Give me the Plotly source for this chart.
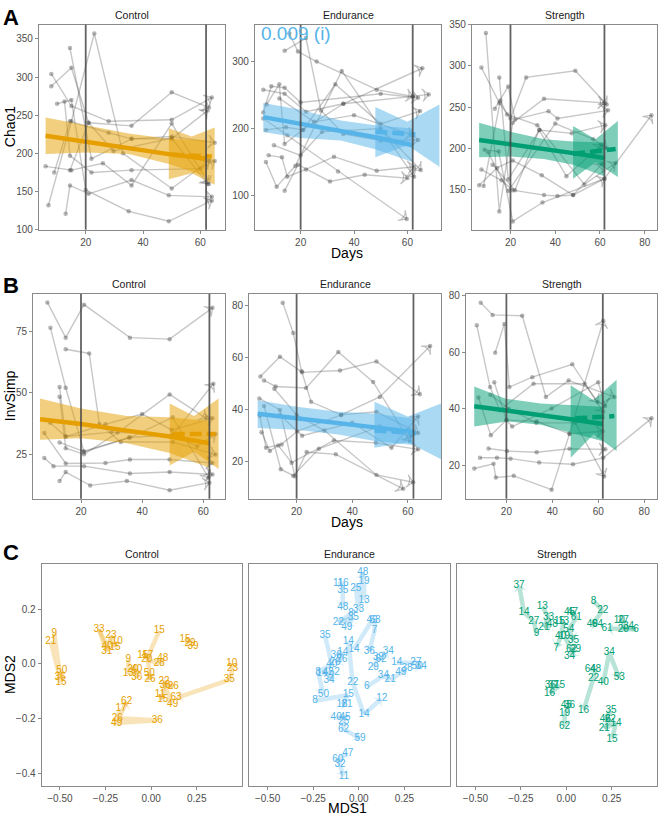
import plotly.graph_objects as go

W, H = 658, 821
FONT = "Liberation Sans, Arial, sans-serif"

# ---------------- data: Chao1 trajectories (days, values per subject) ----------------
chao_ctrl_days = [[8, 15, 28, 50, 64], [8, 15, 21, 36, 50, 63], [14.5, 22, 36, 50, 65],
                  [7, 15, 23, 33, 50, 63], [6, 15, 26, 36, 50, 63], [13, 14.5, 21, 36, 49, 64],
                  [10, 15, 20, 35, 49, 64], [12.6, 14.5, 22, 36, 60, 65], [9, 14.5, 28, 36, 50, 62.5],
                  [14.5, 21, 29.7, 50, 62.5]]
chao_ctrl_vals = [[304, 262, 242, 244, 273], [288, 312, 240, 236, 280, 260], [338, 193, 219, 222, 214],
                  [132, 242, 357, 200, 154, 190], [183, 178, 187, 158, 239, 160], [121, 158, 147, 165, 145, 143],
                  [265, 270, 152, 124, 111, 138], [268, 197, 175, 178, 180, 190], [175, 242, 227, 219, 219, 256],
                  [178, 240, 203, 220, 160]]
chao_end_days = [[6, 14, 22, 36, 62, 68], [6, 9, 14, 20, 50, 64], [15.75, 19, 26, 48.5, 62],
                 [14, 22, 27.6, 36, 50, 64], [7, 14.5, 21, 33, 50, 64.75], [7.25, 12, 14, 20.75, 36, 65.6],
                 [8, 13, 15, 22, 32.5, 48.5, 62.5], [7, 11, 18, 35.4, 62.5], [14, 19, 31, 44, 60],
                 [6, 15, 34, 59.75], [10, 20, 28, 50, 65], [12, 25, 40, 62]]
chao_end_vals = [[258, 252, 225, 237, 248, 251], [224, 263, 261, 239, 252, 246], [342, 315, 300, 258, 248],
                 [316, 335, 227, 192, 182, 183], [198, 202, 198, 266, 207, 226], [236, 266, 177, 198, 237, 290],
                 [160, 157, 128, 139, 158, 137, 143], [150, 113, 144, 286, 128], [107, 146, 121, 131, 126],
                 [215, 190, 136, 65], [175, 160, 195, 200, 138], [245, 210, 220, 190]]
chao_str_days = [[9, 15, 21, 35, 62], [7, 15, 20, 27, 49, 63], [15, 19, 33, 47.4, 62.4],
                 [13, 19, 22, 37, 41, 63.6], [6, 14, 21, 34, 48, 62], [8, 15.5, 18.5, 32, 53, 67],
                 [7, 16, 21, 35, 41, 48, 61], [8.4, 14.7, 21, 34.3, 62, 83], [12, 22, 32.8, 45, 60.6],
                 [10, 19, 40, 57, 63]]
chao_str_vals = [[340, 123, 231, 260, 255], [298, 255, 236, 286, 294, 253], [286, 162, 222, 218, 228],
                 [248, 275, 235, 245, 236, 246], [155, 176, 185, 167, 143, 163], [154, 258, 241, 228, 156, 182],
                 [174, 161, 149, 143, 142, 143, 181], [198, 196, 111, 134, 163, 240], [180, 149, 222, 166, 204],
                 [195, 148, 230, 211, 200]]

# ---------------- data: InvSimp trajectories ----------------
inv_ctrl_days = [[9, 15, 21, 36, 49, 63], [10, 15, 21, 36, 50, 61.7], [15, 22.7, 26, 33, 50, 64],
                 [13, 15, 28, 40, 49.7, 63], [13, 15, 21, 32, 49, 61], [8, 15, 28, 36, 49, 63],
                 [8, 11, 21, 36, 49, 63], [13, 15, 23, 35, 49, 62], [13, 20.8, 35.7, 50, 63.3],
                 [9.9, 15, 30, 50.2, 58, 64]]
inv_ctrl_vals = [[86.6, 72.3, 85.7, 72.3, 71.7, 84.4], [76.3, 52, 26, 31.8, 40, 15.5],
                 [67.6, 65.9, 37.3, 30, 30, 24.9], [52.3, 32.2, 37.2, 41.3, 34.9, 39.6],
                 [48.3, 27.5, 25, 33.8, 49.3, 39.6], [33.6, 21.3, 21.5, 22.9, 22.9, 21.5],
                 [23.5, 20.2, 20.2, 17.2, 17.8, 16.8], [14.2, 17.8, 12.4, 14.2, 10.4, 13.5],
                 [29.8, 26.2, 31.8, 32.9, 53.6], [37.8, 32.2, 34, 32.9, 28.2, 33.2]]
inv_end_days = [[15, 18.8, 21.8, 25.2, 36, 48.7, 63.7], [7, 14, 22, 35.6, 48.7, 64.3],
                [8.3, 12.5, 23.4, 35, 47.5, 60.7], [6.6, 14, 19.4, 23.6, 34.1, 58.3],
                [6.8, 9, 14.6, 20.2, 36, 49.9, 68], [7.4, 10.4, 13.4, 18.2, 33.4, 48.5, 63.7],
                [8.3, 14.3, 18.8, 28, 49.9, 61.3], [12, 20, 30, 48.7, 61.9], [14, 22, 40, 54.1, 63.7]]
inv_end_vals = [[81, 69.4, 54.7, 43, 38, 39.2, 31.1], [52.7, 60.3, 54.3, 55, 58.5, 45.9],
                [51.2, 48.9, 48.3, 62.1, 50.6, 27.9], [44.3, 39.9, 14.5, 23.8, 22.9, 9.7],
                [37.7, 25.4, 26.7, 31.7, 38, 44.9, 64.4], [31.4, 24.2, 26.3, 19.7, 28.2, 27.3, 24.8],
                [41.4, 17.2, 14.7, 25, 33.6, 29.8], [48, 38, 32, 15, 12.2], [38, 30, 35, 25.4, 37.4]]
inv_str_days = [[8.8, 14, 26.9, 37.2, 47.1, 67], [15.1, 19.1, 21.3, 31.3, 48.7, 62.2],
                [7.1, 12.9, 17.1, 31.8, 54.1, 59.7], [7.8, 13.2, 20, 33.2, 47.5, 62.2],
                [14.7, 20, 22.5, 39.7, 60, 63], [12.2, 20.3, 33.2, 47.5, 63.1],
                [8.5, 15.9, 21.8, 34.3, 49, 62.2, 83.2], [6, 14.4, 15.4, 23.2, 39.7, 47.5, 61.9],
                [13, 21, 33, 50, 62.6]]
inv_str_vals = [[77.6, 73.3, 73, 44.2, 50, 44.2], [59.9, 70.1, 47.7, 51.2, 55.8, 38.9],
                [69.6, 47.7, 39.5, 48.9, 48.9, 42.4], [44, 30.6, 36, 35.5, 31.1, 71.2],
                [49.4, 36, 33.7, 40.1, 49.4, 41], [25.9, 25, 24.6, 25.8, 25.6],
                [22.6, 22.6, 22.3, 20.9, 20.3, 22.6, 36.6], [18.8, 20.5, 15.6, 16.2, 11.3, 31.1, 32],
                [45, 40, 35, 35, 16]]

# ---------------- data: fitted trends [x, fit, lower, upper] ----------------
chao_ctrl_fit = [[6, 20, 35, 49, 62], [223, 215, 207, 199, 193], [199, 201, 199, 186, 170], [247, 237, 226, 219, 217]]
chao_ctrl_late = [[49, 57, 65], [198, 197, 196], [166, 174, 159], [233, 222, 234]]
chao_ctrl_late_line = [[50, 64], [198, 196]]
chao_end_fit = [[6, 20, 35, 48, 62], [217, 207, 197, 187, 175], [195, 186, 182, 169, 150], [238, 228, 212, 205, 200]]
chao_end_late = [[48, 60, 72], [195.6, 191, 189], [157, 175, 143], [232, 210, 236]]
chao_end_late_line = [[48, 63], [195.6, 191]]
chao_str_fit = [[6, 20, 35, 48, 62], [210, 205, 199, 194, 188], [189, 190, 187, 180, 166], [231, 220, 211, 208, 207]]
chao_str_late = [[48, 58, 68], [193, 196, 199], [163, 183, 165], [227, 211, 233]]
chao_str_late_line = [[48, 67], [193, 199]]
inv_ctrl_fit = [[6.6, 20, 35, 49, 62], [39.2, 37.3, 34.6, 32.2, 29.5], [30.9, 31.5, 29.5, 25.5, 19.5], [47.6, 43.6, 40.5, 40.0, 38.5]]
inv_ctrl_late = [[49, 57, 65], [33.2, 33.2, 33.2], [20.5, 26, 19], [45.6, 40.5, 47.6]]
inv_ctrl_late_line = [[50, 64], [33.2, 33.2]]
inv_end_fit = [[6, 20, 35, 48, 62], [38.4, 36.7, 34.8, 33.2, 31.5], [33, 32.3, 30.5, 28, 26.5], [43.6, 41.1, 39.2, 38.5, 36.5]]
inv_end_late = [[48, 60, 72], [32, 31, 30.5], [25.4, 27.5, 21], [43, 37.4, 42.4]]
inv_end_late_line = [[48, 63], [32, 31]]
inv_str_fit = [[6, 20, 35, 48, 62], [40.9, 39.5, 37.8, 36.3, 34.6], [33.7, 35.5, 34.3, 31.5, 28.5], [47.9, 43.5, 41.9, 41.3, 40.7]]
inv_str_late = [[48, 58, 68], [36.5, 36.8, 37.4], [22.6, 31, 25], [48.3, 43, 50.3]]
inv_str_late_line = [[50, 67], [36.6, 37.4]]

# ---------------- data: MDS ordination (labels = day) ----------------
mds_ctrl_lab = [["9", "15", "21", "36", "50"], ["10", "15", "23", "31", "33", "40"], ["9", "13", "20", "36", "40"],
                ["15", "20", "28", "48"], ["15", "17", "26", "50"], ["11", "15", "22", "26", "36", "49"],
                ["10", "23", "35", "63"], ["15", "29", "39"], ["17", "26", "36", "49", "62"]]
mds_ctrl_x = [[-0.531, -0.494, -0.550, -0.499, -0.490], [-0.185, -0.198, -0.220, -0.243, -0.286, -0.240],
              [-0.125, -0.125, -0.101, -0.079, -0.079], [0.045, -0.024, 0.045, 0.064], [-0.046, -0.019, -0.006, -0.010],
              [0.049, 0.064, 0.071, 0.122, 0.076, 0.118], [0.442, 0.447, 0.429, 0.137], [0.186, 0.213, 0.230],
              [-0.165, -0.185, 0.034, -0.189, -0.134]]
mds_ctrl_y = [[0.112, -0.069, 0.082, -0.051, -0.026], [0.081, 0.061, 0.104, 0.046, 0.126, 0.064],
              [0.016, -0.036, -0.020, -0.051, -0.020], [0.121, 0.016, 0.001, 0.020], [0.031, 0.031, -0.059, -0.035],
              [-0.114, -0.131, -0.065, -0.083, -0.081, -0.149], [0.000, -0.017, -0.059, -0.125], [0.088, 0.075, 0.064],
              [-0.165, -0.199, -0.207, -0.217, -0.137]]
mds_end_lab = [["13", "19", "25", "33", "48"], ["11", "16", "35", "48"], ["8", "22", "35", "49"],
               ["14", "49", "63", "7", "36"], ["14", "22", "14", "12"], ["35", "40", "8", "50"],
               ["36", "14", "26", "20"], ["14", "42", "52", "34"], ["8", "15", "18", "21"],
               ["40", "45", "25", "62", "59"], ["47", "60", "32", "11"], ["29", "39", "62", "34"],
               ["6", "34", "21", "49", "38"], ["14", "27", "50", "34"]]
mds_end_x = [[0.029, 0.029, -0.016, -0.002, 0.022], [-0.113, -0.086, -0.088, -0.088], [-0.042, -0.112, -0.030, -0.066],
             [-0.026, 0.073, 0.089, 0.086, 0.058], [-0.057, -0.033, 0.029, 0.126], [-0.185, -0.148, -0.223, -0.194],
             [-0.124, -0.088, -0.093, -0.130], [-0.201, -0.168, -0.135, -0.163], [-0.240, -0.057, -0.092, -0.064],
             [-0.124, -0.075, -0.084, -0.084, 0.007], [-0.060, -0.115, -0.103, -0.081], [0.080, 0.107, 0.122, 0.162],
             [0.044, 0.135, 0.172, 0.230, 0.265], [0.208, 0.313, 0.320, 0.342]]
mds_end_y = [[0.233, 0.301, 0.278, 0.200, 0.335], [0.293, 0.295, 0.269, 0.206], [0.184, 0.151, 0.170, 0.134],
             [0.054, 0.160, 0.160, 0.121, 0.046], [0.082, -0.069, -0.185, -0.126], [0.104, -0.002, -0.030, -0.114],
             [0.030, 0.042, 0.016, 0.006], [-0.034, -0.030, -0.030, -0.060], [-0.135, -0.114, -0.149, -0.150],
             [-0.195, -0.195, -0.213, -0.239, -0.273], [-0.330, -0.349, -0.370, -0.414], [-0.014, 0.022, 0.017, 0.046],
             [-0.083, -0.044, -0.059, -0.033, -0.018], [0.004, 0.004, -0.008, -0.008]]
mds_str_lab = [["9", "27", "14", "37"], ["13", "33", "21", "48"], ["15", "13", "40", "7"],
               ["45", "47", "61", "54", "35"], ["19", "62", "29", "34"], ["8", "22", "49", "64"],
               ["10", "27", "20", "34", "6", "61"], ["40", "34", "53"], ["35", "46", "22", "21", "14", "15"],
               ["64", "48", "22", "16"], ["36", "37", "15", "16"], ["45", "36", "19", "62"]]
mds_str_x = [[-0.164, -0.179, -0.232, -0.260], [-0.132, -0.097, -0.123, -0.077], [-0.037, -0.015, -0.031, -0.055],
             [0.018, 0.035, 0.055, 0.014, 0.040], [-0.009, 0.029, 0.051, 0.018], [0.150, 0.201, 0.144, 0.172],
             [0.292, 0.314, 0.314, 0.343, 0.384, 0.225], [0.204, 0.237, 0.292],
             [0.247, 0.215, 0.243, 0.210, 0.274, 0.252], [0.133, 0.161, 0.150, 0.095],
             [-0.088, -0.070, -0.037, -0.092], [0.000, 0.018, -0.009, -0.009]]
mds_str_y = [[0.110, 0.157, 0.187, 0.289], [0.211, 0.170, 0.134, 0.146], [0.154, 0.154, 0.100, 0.058],
             [0.190, 0.190, 0.169, 0.126, 0.085], [0.100, 0.052, 0.052, 0.028], [0.230, 0.196, 0.146, 0.146],
             [0.160, 0.160, 0.126, 0.136, 0.126, 0.130], [-0.069, 0.040, -0.051],
             [-0.171, -0.203, -0.203, -0.237, -0.217, -0.276], [-0.020, -0.020, -0.053, -0.171],
             [-0.081, -0.081, -0.081, -0.107], [-0.153, -0.153, -0.183, -0.231]]

groups = ["Control", "Endurance", "Strength"]
x_ticks_days = [20, 40, 60]
x_ticks_days_long = [20, 40, 60, 80]
chao_ticks = [[100, 150, 200, 250, 300, 350], [100, 200, 300], [150, 200, 250, 300, 350]]
inv_ticks = [[25, 50, 75], [20, 40, 60, 80], [20, 40, 60, 80]]
mds_xticks = [-0.5, -0.25, 0, 0.25]
mds_xtext = ["\u22120.50", "\u22120.25", "0.00", "0.25"]
mds_yticks = [-0.4, -0.2, 0, 0.2]
mds_ytext = ["\u22120.4", "\u22120.2", "0.0", "0.2"]
phase_days = [20, 62]
stat_label = "0.009 (i)"

# ---------------- styling ----------------
COL = {"Control": (230, 159, 0), "Endurance": (86, 180, 233), "Strength": (0, 158, 115)}
def rgba(c, a):
    return f"rgba({c[0]},{c[1]},{c[2]},{a})"
def fx(p):
    return p / W
def fy(p):
    return 1 - p / H

TRAJ = "rgba(70,70,70,0.30)"
DOT = "rgba(70,70,70,0.40)"
BORDER = "#8a8a8a"
TICKFONT = dict(family=FONT, size=10, color="#4d4d4d")

# panel geometry in pixels: (id, group, x px, y px, xrange, yrange)
panels = [
    (1, "Control", (39, 225), (19, 227), [3.7, 68.6], [100, 368.5]),
    (2, "Endurance", (255, 441), (19, 227), [2.9, 72.6], [49, 355]),
    (3, "Strength", (472, 657), (19, 227), [2.8, 85.5], [101, 350]),
    (4, "Control", (33.3, 225), (292.3, 500), [4.4, 67.1], [7, 90]),
    (5, "Endurance", (249.3, 441), (292.3, 500), [3.0, 71.9], [5.9, 84.3]),
    (6, "Strength", (466, 657), (292.3, 500), [2.4, 85.6], [8.1, 80.7]),
    (7, "Control", (41.7, 242.3), (566, 791.7), [-0.6, 0.5], [-0.448, 0.367]),
    (8, "Endurance", (249.3, 450), (566, 791.7), [-0.6, 0.5], [-0.448, 0.367]),
    (9, "Strength", (457.3, 657), (566, 791.7), [-0.6, 0.5], [-0.448, 0.367]),
]

fig = go.Figure()
layout = {}
shapes = []
annotations = []

def sfx(pid):
    return "" if pid == 1 else str(pid)

for pid, grp, xp, yp, xr, yr in panels:
    s = sfx(pid)
    gi = groups.index(grp)
    xa = dict(domain=[fx(xp[0]), fx(xp[1])], range=xr, anchor="y" + s, showgrid=False, zeroline=False,
              showline=True, mirror=True, linecolor=BORDER, linewidth=1.2, ticks="outside", ticklen=3,
              tickcolor=BORDER, tickfont=TICKFONT)
    ya = dict(domain=[fy(yp[1]), fy(yp[0])], range=yr, anchor="x" + s, showgrid=False, zeroline=False,
              showline=True, mirror=True, linecolor=BORDER, linewidth=1.2, ticks="outside", ticklen=3,
              tickcolor=BORDER, tickfont=TICKFONT)
    if pid <= 6:
        xa["tickvals"] = x_ticks_days_long if grp == "Strength" else x_ticks_days
        ya["tickvals"] = chao_ticks[gi] if pid <= 3 else inv_ticks[gi]
        for d in phase_days:
            shapes.append(dict(type="line", xref="x" + s, yref="y" + s + " domain", x0=d, x1=d, y0=0, y1=1,
                               line=dict(color="rgba(70,70,70,0.85)", width=1.8), layer="above"))
    else:
        xa["tickvals"] = mds_xticks
        xa["ticktext"] = mds_xtext
        if pid == 7:
            ya["tickvals"] = mds_yticks
            ya["ticktext"] = mds_ytext
        else:
            ya["showticklabels"] = False
            ya["ticks"] = ""
    layout["xaxis" + s] = xa
    layout["yaxis" + s] = ya
    # facet title
    annotations.append(dict(text=grp, x=fx((xp[0] + xp[1]) / 2), y=fy(yp[0] - 10), xref="paper", yref="paper",
                            showarrow=False, font=dict(family=FONT, size=10.5, color="#1a1a1a"),
                            xanchor="center", yanchor="middle"))

def add_traj(pid, days_list, vals_list):
    s = sfx(pid)
    for d, v in zip(days_list, vals_list):
        n = len(d)
        fig.add_trace(go.Scatter(
            x=d, y=v, mode="lines+markers", xaxis="x" + s, yaxis="y" + s, showlegend=False, hoverinfo="skip",
            line=dict(color=TRAJ, width=1.4),
            marker=dict(symbol="arrow-wide-open", size=[0] * (n - 1) + [9], angleref="previous",
                        color="rgba(70,70,70,0.5)",
                        line=dict(color="rgba(70,70,70,0.5)", width=[0] * (n - 1) + [1.2]))))
    fig.add_trace(go.Scatter(
        x=[x for d in days_list for x in d], y=[y for v in vals_list for y in v], mode="markers",
        xaxis="x" + s, yaxis="y" + s, showlegend=False, hoverinfo="skip",
        marker=dict(size=4.5, color=DOT, line=dict(width=0))))

def add_fit(pid, grp, fit, late, late_line):
    s = sfx(pid)
    c = COL[grp]
    for band in (fit, late):
        xs, mid, lo, hi = band
        fig.add_trace(go.Scatter(x=xs + xs[::-1], y=hi + lo[::-1], fill="toself", mode="lines",
                                 line=dict(width=0), fillcolor=rgba(c, 0.5), xaxis="x" + s, yaxis="y" + s,
                                 showlegend=False, hoverinfo="skip"))
    fig.add_trace(go.Scatter(x=fit[0], y=fit[1], mode="lines", line=dict(color=rgba(c, 1), width=4.5),
                             xaxis="x" + s, yaxis="y" + s, showlegend=False, hoverinfo="skip"))
    fig.add_trace(go.Scatter(x=late_line[0], y=late_line[1], mode="lines",
                             line=dict(color=rgba(c, 1), width=4.5, dash="12px,5px"),
                             xaxis="x" + s, yaxis="y" + s, showlegend=False, hoverinfo="skip"))

traj_sets = [
    (1, "Control", chao_ctrl_days, chao_ctrl_vals, chao_ctrl_fit, chao_ctrl_late, chao_ctrl_late_line),
    (2, "Endurance", chao_end_days, chao_end_vals, chao_end_fit, chao_end_late, chao_end_late_line),
    (3, "Strength", chao_str_days, chao_str_vals, chao_str_fit, chao_str_late, chao_str_late_line),
    (4, "Control", inv_ctrl_days, inv_ctrl_vals, inv_ctrl_fit, inv_ctrl_late, inv_ctrl_late_line),
    (5, "Endurance", inv_end_days, inv_end_vals, inv_end_fit, inv_end_late, inv_end_late_line),
    (6, "Strength", inv_str_days, inv_str_vals, inv_str_fit, inv_str_late, inv_str_late_line),
]
for pid, grp, dl, vl, fit, late, late_line in traj_sets:
    add_traj(pid, dl, vl)
    add_fit(pid, grp, fit, late, late_line)

mds_sets = [
    (7, "Control", mds_ctrl_lab, mds_ctrl_x, mds_ctrl_y),
    (8, "Endurance", mds_end_lab, mds_end_x, mds_end_y),
    (9, "Strength", mds_str_lab, mds_str_x, mds_str_y),
]
for pid, grp, labs, xs, ys in mds_sets:
    s = sfx(pid)
    c = COL[grp]
    for lab, x, y in zip(labs, xs, ys):
        n = len(x)
        fig.add_trace(go.Scatter(
            x=x, y=y, mode="lines+markers", xaxis="x" + s, yaxis="y" + s, showlegend=False, hoverinfo="skip",
            line=dict(color=rgba(c, 0.28), width=4.5),
            marker=dict(symbol="arrow-wide", size=[0] * (n - 1) + [11], angleref="previous",
                        color=rgba(c, 0.35), line=dict(width=0))))
    fig.add_trace(go.Scatter(
        x=[v for x in xs for v in x], y=[v for y in ys for v in y], text=[t for l in labs for t in l],
        mode="text", textposition="middle center", xaxis="x" + s, yaxis="y" + s, showlegend=False,
        hoverinfo="skip", textfont=dict(family=FONT, size=10, color=rgba(c, 1))))

# panel letters and axis titles
for letter, ypix in (("A", 12), ("B", 284), ("C", 555)):
    annotations.append(dict(text="<b>" + letter + "</b>", x=fx(1), y=fy(ypix), xref="paper", yref="paper",
                            showarrow=False, xanchor="left", yanchor="middle",
                            font=dict(family=FONT, size=22, color="black")))
for title, ypix in (("Chao1", 123), ("InvSimp", 396), ("MDS2", 679)):
    annotations.append(dict(text=title, x=fx(10), y=fy(ypix), xref="paper", yref="paper", showarrow=False,
                            textangle=-90, xanchor="center", yanchor="middle",
                            font=dict(family=FONT, size=14, color="black")))
for title, ypix in (("Days", 251), ("Days", 524), ("MDS1", 814)):
    annotations.append(dict(text=title, x=fx(347), y=fy(ypix), xref="paper", yref="paper", showarrow=False,
                            xanchor="center", yanchor="middle", font=dict(family=FONT, size=14, color="black")))
annotations.append(dict(text=stat_label, x=fx(259), y=fy(28), xref="paper", yref="paper", showarrow=False,
                        xanchor="left", yanchor="middle", font=dict(family=FONT, size=19, color=rgba(COL["Endurance"], 1))))

layout.update(dict(width=W, height=H, margin=dict(l=0, r=0, t=0, b=0), paper_bgcolor="white",
                   plot_bgcolor="white", shapes=shapes, annotations=annotations, showlegend=False,
                   font=dict(family=FONT)))
fig.update_layout(**layout)
fig.write_html("out.html", config={"displayModeBar": False},
               post_script="document.body.style.margin='0px';document.body.style.overflow='hidden';")
